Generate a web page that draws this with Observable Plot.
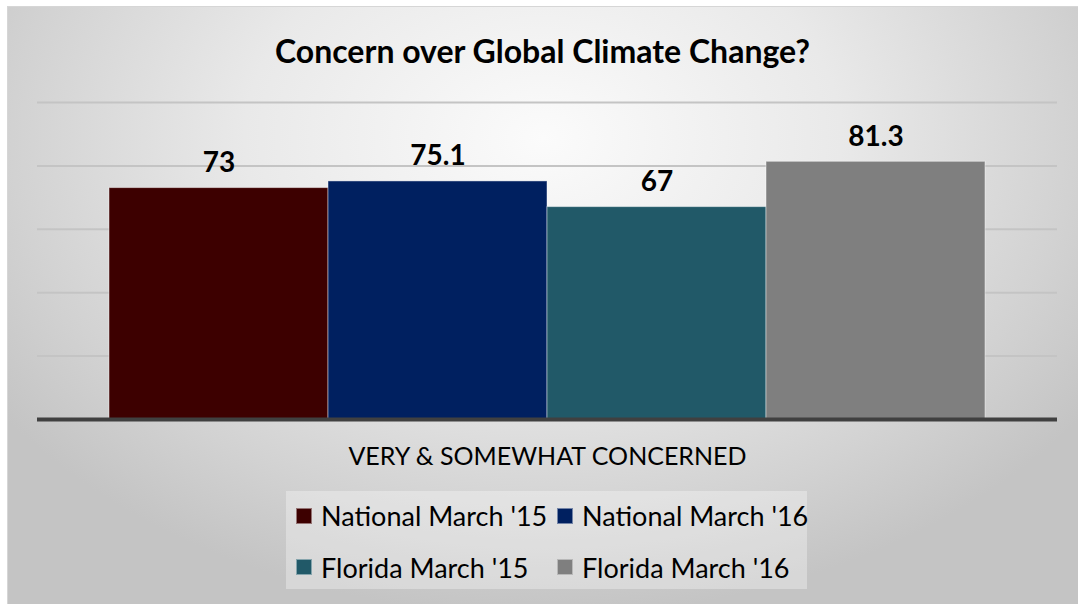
<!DOCTYPE html>
<html>
<head>
<meta charset="utf-8">
<script src="https://cdn.jsdelivr.net/npm/d3@7"></script>
<script src="https://cdn.jsdelivr.net/npm/@observablehq/plot@0.6"></script>
<style>
  html, body { margin: 0; padding: 0; background: #ffffff; width: 1078px; height: 604px; overflow: hidden; }
  body { position: relative; font-family: Lato, "Open Sans", sans-serif; }
  #bg {
    position: absolute; left: 7px; top: 6px; width: 1071px; height: 598px;
    box-sizing: border-box; border-top: 1px solid #d6d6d6; border-left: 1px solid #d6d6d6;
    background: radial-gradient(ellipse 62% 80% at 50% 22%, #fbfbfb 0%, #e9e9e9 45%, #d2d2d2 80%, #c4c4c4 100%);
  }
  #title {
    position: absolute; left: 7px; width: 1071px; top: 32px; text-align: center;
    font-weight: 700; font-size: 32px; line-height: 38px; color: #000;
  }
  #chart { position: absolute; left: 0; top: 80px; }
  #legend {
    position: absolute; left: 286px; top: 491px; width: 521px; height: 98px;
    background: rgba(255,255,255,0.32);
  }
  .item { position: absolute; height: 30px; display: flex; align-items: center; white-space: nowrap; }
  .sw { width: 16px; height: 16px; box-sizing: border-box; border: 1px solid rgba(255,255,255,0.45); margin-right: 9px; }
  .lab { font-size: 27px; color: #000; }
</style>
</head>
<body>
<div id="bg"></div>
<div id="title">Concern over Global Climate Change?</div>
<div id="chart"></div>
<div id="legend"></div>
<script>
// ---- data ----
const category = "VERY & SOMEWHAT CONCERNED";
const series = ["National March '15", "National March '16", "Florida March '15", "Florida March '16"];
const values = [73, 75.1, 67, 81.3];
const colors = ["#3d0000", "#002060", "#215968", "#7f7f7f"];
const gridTicks = [20, 40, 60, 80, 100];

const rows = series.map((s, i) => ({category, series: s, value: values[i]}));

const hasAxisMarks = typeof Plot.axisFx === "function";

const marks = [
  Plot.ruleY(gridTicks, {stroke: "#c4c4c4", strokeWidth: 2}),
  Plot.barY(rows, {fx: "category", x: "series", y: "value", fill: "series",
    stroke: "#ffffff", strokeOpacity: 0.45, strokeWidth: 1}),
  Plot.ruleY([0], {stroke: "#404040", strokeWidth: 4}),
  Plot.text(rows, {fx: "category", x: "series", y: "value", text: d => String(d.value),
    lineAnchor: "bottom", dy: -16, fontSize: 28, fontWeight: "bold", fill: "#000"})
];
if (hasAxisMarks) {
  marks.push(Plot.axisFx({anchor: "bottom", label: null, tickSize: 0, tickPadding: 28,
    fontSize: 25, fill: "#000"}));
}

const chart = Plot.plot({
  width: 1078,
  height: 399,
  marginLeft: 37,
  marginRight: 21,
  marginTop: 22,
  marginBottom: 60,
  style: {background: "transparent", fontFamily: "Lato, 'Open Sans', sans-serif", color: "#000", overflow: "visible"},
  fx: {domain: [category], padding: 0, axis: hasAxisMarks ? null : "bottom", label: null, tickSize: 0, tickPadding: 28},
  x: {domain: series, paddingInner: 0, paddingOuter: 0.327, axis: null},
  y: {domain: [0, 100], axis: null},
  color: {domain: series, range: colors},
  marks
});
document.getElementById("chart").appendChild(chart);

// ---- legend ----
const legend = document.getElementById("legend");
const colX = [10, 271];
const rowY = [9.5, 61];
series.forEach((s, i) => {
  const item = document.createElement("div");
  item.className = "item";
  item.style.left = colX[i % 2] + "px";
  item.style.top = rowY[Math.floor(i / 2)] + "px";
  const sw = document.createElement("div");
  sw.className = "sw";
  sw.style.background = colors[i];
  const lab = document.createElement("span");
  lab.className = "lab";
  lab.textContent = s;
  item.appendChild(sw);
  item.appendChild(lab);
  legend.appendChild(item);
});
</script>
</body>
</html>
